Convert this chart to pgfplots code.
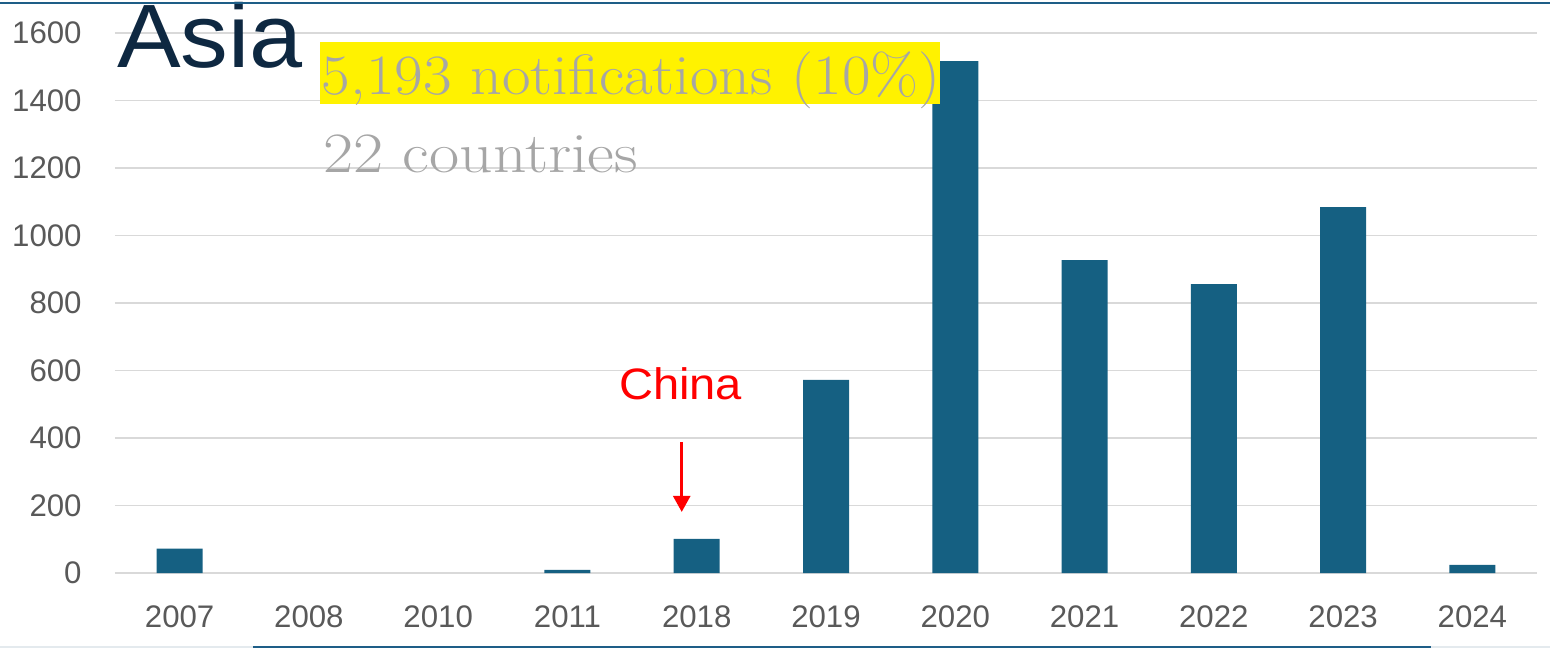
\documentclass[border=0pt]{standalone}
\usepackage{fontspec}
\usepackage{pgfplots}
\pgfplotsset{compat=1.18}
\usetikzlibrary{arrows.meta}
\newfontfamily\lib{Liberation Sans}
\definecolor{barc}{HTML}{156082}
\definecolor{gridc}{HTML}{D9D9D9}
\definecolor{ticklab}{HTML}{595959}
\definecolor{titlec}{HTML}{0E2841}
\definecolor{graytxt}{HTML}{A6A6A6}
\definecolor{topline}{HTML}{1E5E87}
\definecolor{botlight}{HTML}{E4EAEE}
\begin{document}
\begin{tikzpicture}
\begin{axis}[
  width=711pt, height=270pt, scale only axis,
  xmin=-0.5, xmax=10.5, ymin=0, ymax=1600,
  ybar, bar width=23pt,
  axis line style={draw=none},
  ymajorgrids, grid style={draw=gridc, line width=0.8pt},
  ytick={0,200,...,1600},
  xtick={0,...,10},
  xticklabels={2007,2008,2010,2011,2018,2019,2020,2021,2022,2023,2024},
  major tick length=0pt,
  tick style={draw=none},
  ticklabel style={font=\lib\fontsize{15.6}{18}\selectfont, text=ticklab},
  /pgf/number format/assume math mode=true,
  /pgf/number format/1000 sep={},
  yticklabel style={inner sep=0pt, anchor=east, xshift=-16.5pt},
  xticklabel style={inner sep=0pt, anchor=north, yshift=-16pt},
  scaled y ticks=false,
  clip=false,
]
\addplot[fill=barc, draw=none] coordinates {(0,72) (3,9) (4,101) (5,572) (6,1517) (7,927) (8,856) (9,1084) (10,24)};
\fill[yellow] (axis cs:1.083,1390) rectangle (axis cs:5.879,1573);
\node[anchor=base west, inner sep=0pt, text=graytxt, font=\fontsize{28.5}{30}\selectfont] at (axis cs:1.098,1419) {\scalebox{1.09}[1]{5,193 notifications (10\%)}};
\node[anchor=base west, inner sep=0pt, text=graytxt, font=\fontsize{28.5}{30}\selectfont] at (axis cs:1.106,1188) {\scalebox{1.15}[1]{22 countries}};
\node[anchor=base west, inner sep=0pt, text=titlec, font=\lib\fontsize{45}{50}\selectfont] at (axis cs:-0.487,1499) {\scalebox{1.06}[1]{Asia}};
\node[anchor=base, inner sep=0pt, text=red, font=\lib\fontsize{22}{26}\selectfont] at (axis cs:3.876,513) {\scalebox{1.07}[1]{China}};
\draw[red, line width=1.3pt, -{Triangle[width=8.5pt,length=8pt]}] (axis cs:3.884,388) -- (axis cs:3.884,181);
\end{axis}
\draw[topline, line width=1pt] (-57.5pt,285pt) -- (717.5pt,285pt);
\draw[botlight, line width=1pt] (-57.5pt,-37pt) -- (717.5pt,-37pt);
\draw[topline, line width=1pt] (69pt,-37pt) -- (658pt,-37pt);
\pgfresetboundingbox
\path[use as bounding box] (-57.5pt,-38pt) rectangle (717.5pt,286.5pt);
\end{tikzpicture}
\end{document}
